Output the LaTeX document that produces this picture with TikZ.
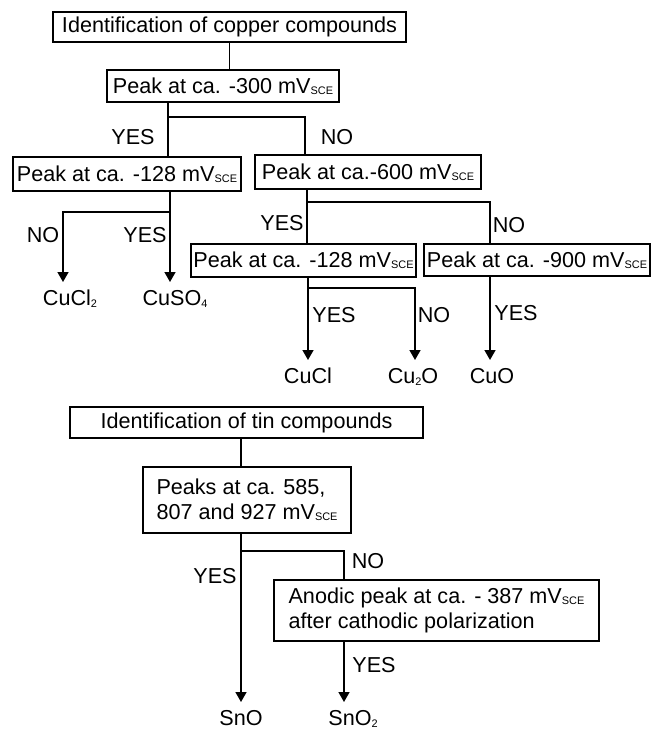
\documentclass[tikz,border=0pt]{standalone}
\usepackage{fontspec}
\setmainfont{Liberation Sans}
\usetikzlibrary{arrows.meta}

\newcommand{\sce}{\raisebox{-1pt}{\fontsize{8.2}{8.2}\selectfont SCE}}
\newcommand{\tief}[1]{\raisebox{-1.5pt}{\fontsize{8.2}{8.2}\selectfont #1}}

\begin{document}
\begin{tikzpicture}[x=0.75pt,y=-0.75pt,
        font=\fontsize{16.2}{18.75}\selectfont,
        kasten/.style 2 args={draw, line width=1.5pt, inner sep=2pt,
            minimum width=#1*0.75pt, minimum height=#2*0.75pt},
        linie/.style={line width=1.2pt},
        pfeil/.style={line width=1.2pt, -{Triangle[width=8.25pt,length=7.5pt]}},
        stoff/.style={anchor=north, inner xsep=1pt, inner ysep=6pt}]

            % Bildgröße
            \useasboundingbox (0,0) rectangle (652,731);

            % Kästen Kupfer
            \node[kasten={353}{30}] (kupfer) at (229.5,27) {Identification of copper compounds};
            \node[kasten={232}{32}] (p300) at (223,86) {Peak at ca. -300 mV\sce};
            \node[kasten={228}{34}] (p128a) at (127,174) {Peak at ca. -128 mV\sce};
            \node[kasten={226}{34}] (p600) at (368,172) {Peak at ca.-600 mV\sce};
            \node[kasten={223}{33}] (p128b) at (303.5,260.5) {Peak at ca. -128 mV\sce};
            \node[kasten={222}{32}] (p900) at (537,260) {Peak at ca. -900 mV\sce};

            % Kästen Zinn
            \node[kasten={353}{31}] (zinn) at (246.5,422.5) {Identification of tin compounds};
            \node[kasten={208}{66}, align=left] (peaks) at (247,500)
                {Peaks at ca. 585,\\807 and 927 mV\sce};
            \node[kasten={325}{61}, align=left] (anod) at (436.5,610.5)
                {Anodic peak at ca. - 387 mV\sce\\after cathodic polarization};

            % Verbindungen
            \node[stoff] (cucl2) at (70,282) {CuCl\tief{2}};
            \node[stoff] (cuso4) at (175,282) {CuSO\tief{4}};
            \node[stoff] (cucl) at (308,360) {CuCl};
            \node[stoff] (cu2o) at (413,360) {Cu\tief{2}O};
            \node[stoff] (cuo) at (492,360) {CuO};
            \node[stoff] (sno) at (241,702) {SnO};
            \node[stoff] (sno2) at (353,702) {SnO\tief{2}};

            % Verzweigungspunkte
            \coordinate (j1) at (168,117);
            \coordinate (j1r) at (305,117);
            \coordinate (j2) at (170,212);
            \coordinate (j2l) at (63,212);
            \coordinate (j3) at (307,202);
            \coordinate (j3r) at (490,202);
            \coordinate (j4) at (308,288);
            \coordinate (j4r) at (415,288);
            \coordinate (j5) at (241,551);
            \coordinate (j5r) at (344,551);

            % Linien und Pfeile Kupfer
            \draw[linie] (kupfer.south) -- (kupfer.south |- p300.north);
            \draw[linie] (p300.south -| j1) -- (p128a.north -| j1);
            \draw[linie] (j1) -| (p600.north -| j1r);
            \draw[pfeil] (p128a.south -| j2) -- (cuso4.north -| j2);
            \draw[pfeil] (j2) -| (cucl2.north -| j2l);
            \draw[linie] (p600.south -| j3) -- (p128b.north -| j3);
            \draw[linie] (j3) -| (p900.north -| j3r);
            \draw[pfeil] (p128b.south -| j4) -- (cucl.north -| j4);
            \draw[pfeil] (j4) -| (cu2o.north -| j4r);
            \draw[pfeil] (p900.south -| j3r) -- (cuo.north -| j3r);

            % Linien und Pfeile Zinn
            \draw[linie] (zinn.south -| j5) -- (peaks.north -| j5);
            \draw[pfeil] (peaks.south -| j5) -- (sno.north -| j5);
            \draw[linie] (j5) -| (anod.north -| j5r);
            \draw[pfeil] (anod.south -| j5r) -- (sno2.north -| j5r);

            % Beschriftungen
            \foreach \nm/\x/\y/\txt in {l1/133/137/YES, l2/337/137/NO,
                    l3/43/235/NO, l4/145/235/YES, l5/282/223/YES, l6/509/225/NO,
                    l7/334/315/YES, l8/434/315/NO, l9/516/313/YES,
                    l10/368/561/NO, l11/215/576/YES, l12/374/665/YES} {
                \node (\nm) at (\x,\y) {\txt};
            }
        \end{tikzpicture}
\end{document}
